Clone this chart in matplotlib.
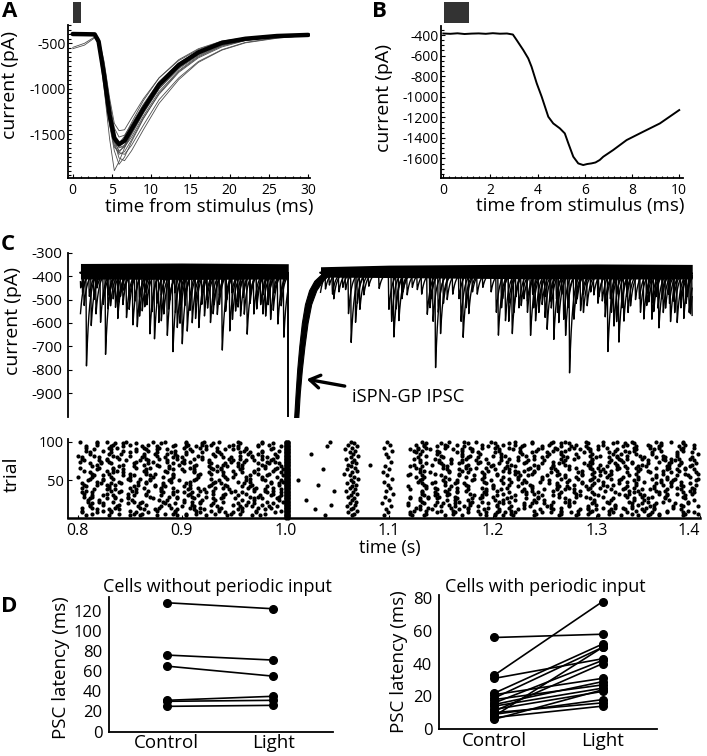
import numpy as np
import matplotlib
matplotlib.use("Agg")
import matplotlib.pyplot as plt
from matplotlib.ticker import MultipleLocator
from matplotlib.transforms import blended_transform_factory, offset_copy
from matplotlib.patches import Rectangle

plt.rcParams['font.family'] = ['Open Sans', 'DejaVu Sans']
plt.rcParams['axes.unicode_minus'] = False
plt.rcParams['axes.linewidth'] = 1.3

W, H = 707, 756

# ---------------- Panel A: evoked IPSCs (ms, pA) ----------------
a_time_ms = [0, 1.5, 2.8, 3.3, 4.0, 4.7, 5.3, 5.9, 6.6, 7.5, 9, 11, 13.5, 16, 19, 22, 26, 30]
a_mean_pA = [-398, -400, -402, -480, -850, -1290, -1540, -1610, -1570, -1440, -1220, -955, -740, -600, -495, -450, -420, -408]
a_trial_01 = [-400, -398, -405, -520, -1000, -1550, -1900, -1800, -1650, -1480, -1260, -1000, -780, -630, -520, -465, -425, -410]
a_trial_02 = [-395, -400, -400, -440, -700, -1100, -1380, -1460, -1450, -1320, -1110, -880, -690, -570, -480, -440, -415, -405]
a_trial_03 = [-405, -402, -400, -500, -900, -1350, -1620, -1720, -1690, -1560, -1320, -1060, -820, -660, -540, -470, -430, -412]
a_trial_04 = [-390, -395, -398, -470, -820, -1230, -1500, -1640, -1640, -1530, -1300, -1030, -800, -640, -525, -465, -425, -410]
a_trial_05 = [-400, -400, -402, -490, -880, -1320, -1560, -1600, -1520, -1370, -1130, -880, -680, -560, -475, -440, -418, -405]
a_trial_06 = [-398, -397, -400, -470, -830, -1270, -1550, -1700, -1720, -1620, -1400, -1120, -880, -700, -570, -490, -440, -415]
a_trial_07 = [-560, -520, -440, -470, -860, -1300, -1580, -1680, -1640, -1500, -1270, -1000, -770, -620, -510, -458, -423, -408]
a_trial_08 = [-545, -500, -430, -460, -800, -1240, -1520, -1650, -1620, -1490, -1250, -980, -760, -610, -505, -455, -422, -407]
a_trial_09 = [-402, -400, -398, -480, -860, -1300, -1580, -1760, -1790, -1680, -1450, -1160, -900, -710, -575, -495, -445, -412]
a_trial_10 = [-400, -403, -400, -520, -950, -1400, -1680, -1830, -1750, -1580, -1330, -1050, -810, -650, -530, -468, -428, -410]
a_trial_11 = [-397, -400, -401, -460, -760, -1150, -1430, -1530, -1510, -1390, -1170, -920, -715, -585, -488, -447, -418, -406]
a_trial_12 = [-403, -400, -402, -500, -920, -1380, -1640, -1700, -1620, -1470, -1230, -970, -750, -605, -500, -452, -421, -407]
stim_ms = [0.05, 1.1]

# ---------------- Panel B: single IPSC (ms, pA) ----------------
b_time_ms = [0, 0.3, 0.6, 0.9, 1.2, 1.5, 1.8, 2.1, 2.4, 2.7, 2.95, 3.11, 3.39, 3.6, 3.74, 3.96, 4.17,
             4.45, 4.66, 4.94, 5.15, 5.3, 5.51, 5.72, 5.93, 6.1, 6.28, 6.45, 6.63, 6.78, 7.2, 7.77,
             8.47, 9.18, 10.0]
b_current_pA = [-385, -388, -383, -390, -386, -384, -388, -382, -387, -385, -395, -449, -546, -627,
                -708, -870, -1000, -1195, -1260, -1308, -1357, -1454, -1584, -1649, -1665, -1655,
                -1649, -1640, -1616, -1584, -1519, -1422, -1341, -1260, -1130]

# ---------------- Panel C: traces (s, pA) ----------------
c_event_s = [0.8020, 0.8022, 0.8078, 0.8124, 0.8213, 0.8262, 0.8310, 0.8358, 0.8406, 0.8464,
             0.8525, 0.8567, 0.8616, 0.8689, 0.8734, 0.8776, 0.8824, 0.8857, 0.8911, 0.8953,
             0.9001, 0.9050, 0.9098, 0.9161, 0.9216, 0.9274, 0.9339, 0.9387, 0.9460, 0.9515,
             0.9564, 0.9628, 0.9692, 0.9757, 0.9805, 0.9853, 0.9923, 0.9981,
             0.804, 0.815, 0.818, 0.829, 0.839, 0.844, 0.849, 0.859, 0.864, 0.866, 0.880, 0.888,
             0.893, 0.898, 0.903, 0.913, 0.919, 0.924, 0.931, 0.936, 0.943, 0.948, 0.954, 0.959,
             0.966, 0.972, 0.978, 0.983, 0.989, 0.995,
             0.8055, 0.8105, 0.8170, 0.8240, 0.8285, 0.8335, 0.8380, 0.8430, 0.8490, 0.8545,
             0.8590, 0.8640, 0.8710, 0.8755, 0.8800, 0.8870, 0.8935, 0.8980, 0.9025, 0.9075,
             0.9130, 0.9190, 0.9245, 0.9300, 0.9360, 0.9420, 0.9485, 0.9540, 0.9600, 0.9655,
             0.9720, 0.9780, 0.9830, 0.9880, 0.9955,
             1.0335, 1.0383, 1.0463, 1.0512, 1.0576, 1.0631, 1.0673, 1.0714, 1.0753, 1.0994,
             1.1042, 1.1090, 1.1171, 1.1268, 1.1364, 1.1444, 1.1492, 1.1557, 1.1711, 1.1765,
             1.1846, 1.2050, 1.2119, 1.2184, 1.2248, 1.2296, 1.2360, 1.2409, 1.2473, 1.2521,
             1.2585, 1.2633, 1.2698, 1.2737, 1.2778, 1.2843, 1.2907, 1.2971, 1.3052, 1.3106,
             1.3164, 1.3212, 1.3260, 1.3325, 1.3373, 1.3453, 1.3501, 1.3549, 1.3598, 1.3662,
             1.3710, 1.3775, 1.3839, 1.3903, 1.3920,
             1.042, 1.055, 1.080, 1.090, 1.113, 1.122, 1.131, 1.140, 1.152, 1.161, 1.167, 1.180,
             1.190, 1.198, 1.209, 1.215, 1.222, 1.233, 1.238, 1.244, 1.250, 1.255, 1.261, 1.266,
             1.281, 1.287, 1.294, 1.302, 1.308, 1.313, 1.319, 1.329, 1.341, 1.348, 1.353, 1.357,
             1.363, 1.369, 1.374, 1.381, 1.387,
             1.0450, 1.0605, 1.0690, 1.1020, 1.1065, 1.1120, 1.1390, 1.1420, 1.1470, 1.1690,
             1.1740, 1.2030, 1.2080, 1.2150, 1.2200, 1.2270, 1.2330, 1.2390, 1.2440, 1.2500,
             1.2560, 1.2620, 1.2680, 1.2720, 1.2800, 1.2870, 1.3010, 1.3080, 1.3140, 1.3190,
             1.3240, 1.3300, 1.3420, 1.3480, 1.3530, 1.3590, 1.3640, 1.3700, 1.3750, 1.3810,
             1.3860, 1.3890]
c_event_peak_pA = [-560, -450, -783, -611, -604, -733, -526, -533, -483, -576,
                   -614, -623, -547, -654, -666, -597, -561, -661, -733, -626,
                   -697, -633, -597, -626, -569, -597, -569, -726, -633, -554,
                   -569, -647, -561, -526, -576, -590, -611, -669,
                   -470, -500, -450, -480, -510, -460, -500, -490, -470, -520, -480, -500,
                   -470, -520, -480, -510, -470, -500, -520, -480, -500, -470, -510, -490,
                   -470, -500, -480, -510, -470, -500,
                   -530, -490, -560, -520, -545, -500, -580, -520, -540, -510,
                   -570, -530, -550, -520, -590, -540, -560, -600, -530, -550,
                   -580, -520, -540, -560, -520, -550, -590, -530, -560, -520,
                   -540, -560, -520, -545, -530,
                   -469, -455, -497, -470, -460, -683, -597, -547, -480, -547,
                   -669, -597, -480, -460, -569, -804, -654, -500, -661, -560,
                   -480, -661, -590, -654, -540, -500, -661, -590, -520, -626,
                   -669, -597, -661, -811, -590, -547, -526, -480, -510, -733,
                   -620, -690, -597, -526, -500, -583, -510, -550, -626, -540,
                   -600, -597, -580, -560, -611,
                   -440, -450, -445, -455, -470, -450, -480, -500, -520, -480, -500, -470,
                   -450, -470, -500, -520, -490, -510, -480, -520, -490, -510, -500, -480,
                   -500, -480, -470, -490, -520, -500, -480, -490, -500, -480, -520, -490,
                   -500, -480, -510, -500, -490,
                   -480, -560, -520, -600, -540, -500, -540, -600, -560, -600,
                   -540, -560, -540, -600, -560, -530, -560, -540, -560, -580,
                   -540, -560, -590, -540, -520, -560, -520, -580, -560, -600,
                   -540, -560, -560, -530, -590, -540, -560, -520, -560, -540,
                   -520, -560]
c_baseline_pA = -385
band_pre_s = [0.8025, 0.90, 1.0029]
band_pre_top_pA = [-346, -344, -347]
band_pre_bottom_pA = [-412, -414, -412]
band_post_s = [1.034, 1.10, 1.20, 1.30, 1.3925]
band_post_top_pA = [-360, -353, -350, -348, -350]
band_post_bottom_pA = [-404, -406, -410, -412, -412]
ipsc_onset_s = 1.0029
ipsc_level_pA = [-1010, -900, -800, -700, -600, -520, -460, -420, -395]
ipsc_early_s = [1.0085, 1.0100, 1.0115, 1.0135, 1.0160, 1.0190, 1.0230, 1.0280, 1.0340]
ipsc_late_s = [1.0125, 1.0140, 1.0160, 1.0185, 1.0215, 1.0250, 1.0300, 1.0360, 1.0420]

# ---------------- Panel C: raster (event times, ms after 0.8 s) ----------------
raster_trials = [100, 98, 96, 94, 92, 90, 88, 86, 84, 82, 80, 78, 76, 74, 72, 70, 68, 66, 64, 62,
                 60, 58, 56, 54, 52, 50, 48, 46, 44, 42, 40, 38, 36, 34, 32, 30, 28, 26, 24, 22,
                 20, 18, 16, 14, 12, 10, 8, 6, 4]
raster_ms = [
    [2, 18, 28, 46, 72, 84, 104, 122, 136, 154, 178, 243, 263, 298, 332, 358, 372, 384, 398, 422, 438, 458, 470, 490, 506, 520, 534, 558, 572, 584],
    [18, 36, 44, 56, 80, 104, 120, 130, 156, 178, 188, 266, 336, 350, 376, 402, 416, 438, 456, 466, 474, 492, 516, 528, 536, 562, 584],
    [18, 34, 50, 68, 94, 106, 120, 128, 150, 174, 184, 261, 301, 326, 334, 354, 366, 390, 410, 422, 430, 454, 480, 506, 530, 550, 562, 586, 594],
    [8, 32, 44, 62, 76, 92, 104, 114, 124, 146, 154, 174, 196, 240, 269, 334, 346, 356, 372, 396, 404, 428, 448, 466, 476, 490, 502, 526, 538, 552, 560, 580],
    [8, 30, 38, 64, 78, 102, 118, 134, 154, 162, 188, 264, 295, 328, 336, 354, 378, 390, 402, 416, 426, 448, 460, 478, 492, 510, 536, 552, 560, 584, 594],
    [16, 32, 56, 66, 76, 86, 108, 124, 142, 150, 162, 186, 258, 320, 328, 340, 362, 370, 380, 406, 420, 444, 462, 474, 484, 494, 502, 520, 538, 556, 582],
    [8, 24, 44, 56, 68, 94, 110, 134, 160, 178, 194, 267, 303, 324, 332, 346, 370, 380, 406, 426, 442, 458, 470, 494, 518, 528, 536, 562, 584],
    [12, 32, 50, 76, 90, 104, 120, 136, 156, 166, 178, 262, 326, 348, 366, 386, 402, 426, 438, 452, 466, 488, 512, 532, 554, 578, 592],
    [12, 30, 42, 64, 74, 86, 94, 104, 130, 138, 164, 174, 190, 225, 265, 297, 330, 346, 370, 388, 408, 428, 454, 466, 480, 496, 516, 524, 538, 554, 578, 598],
    [0, 16, 34, 50, 64, 76, 96, 116, 132, 156, 168, 178, 192, 270, 336, 350, 370, 378, 400, 412, 432, 440, 452, 468, 494, 504, 520, 530, 542, 564, 578],
    [4, 20, 38, 62, 84, 92, 100, 120, 140, 148, 168, 182, 192, 263, 299, 328, 352, 376, 386, 408, 424, 448, 472, 482, 500, 512, 520, 546, 558, 566, 592],
    [4, 28, 40, 66, 78, 96, 112, 120, 146, 156, 178, 188, 259, 324, 344, 360, 374, 394, 416, 440, 466, 478, 496, 522, 530, 544, 564, 572, 580, 590],
    [6, 20, 28, 46, 60, 68, 86, 102, 126, 150, 162, 170, 186, 266, 330, 348, 360, 370, 384, 408, 424, 434, 450, 470, 496, 514, 524, 550, 566, 576, 594],
    [2, 22, 30, 56, 72, 86, 100, 108, 126, 148, 160, 182, 190, 264, 302, 330, 348, 370, 388, 414, 432, 458, 468, 494, 512, 526, 534, 560, 572, 582],
    [12, 22, 32, 54, 68, 92, 102, 128, 142, 154, 174, 184, 194, 268, 336, 350, 360, 368, 386, 396, 406, 430, 448, 464, 488, 496, 518, 534, 550, 570, 582, 596],
    [18, 44, 64, 76, 98, 114, 140, 158, 178, 261, 282, 324, 342, 352, 376, 400, 418, 440, 458, 470, 492, 504, 520, 544, 570, 580, 592],
    [14, 40, 54, 78, 88, 112, 126, 134, 144, 154, 180, 196, 263, 296, 320, 332, 356, 374, 398, 414, 422, 444, 458, 474, 494, 510, 520, 528, 540, 548, 568, 590],
    [2, 20, 34, 56, 70, 88, 108, 128, 138, 158, 180, 192, 267, 326, 352, 374, 384, 394, 412, 436, 444, 456, 480, 494, 502, 522, 530, 538, 558, 570, 586],
    [18, 34, 44, 66, 92, 100, 112, 130, 138, 156, 174, 190, 198, 236, 260, 300, 330, 356, 368, 378, 402, 416, 434, 460, 474, 496, 506, 520, 542, 568, 578, 586, 594],
    [6, 28, 38, 64, 84, 102, 112, 134, 150, 170, 188, 269, 334, 358, 370, 396, 410, 422, 430, 440, 462, 486, 504, 514, 540, 550, 564, 580],
    [12, 34, 44, 66, 86, 112, 126, 140, 158, 170, 196, 264, 294, 330, 340, 358, 376, 390, 416, 424, 440, 456, 482, 498, 508, 530, 552, 572, 596],
    [14, 30, 50, 66, 74, 92, 118, 128, 152, 174, 184, 257, 320, 344, 368, 392, 404, 422, 438, 464, 486, 496, 514, 538, 564, 586, 598],
    [16, 24, 44, 54, 70, 92, 116, 140, 166, 182, 198, 262, 298, 318, 332, 350, 368, 382, 404, 426, 434, 452, 462, 470, 486, 504, 512, 532, 558, 578, 588],
    [0, 14, 32, 50, 72, 82, 92, 116, 142, 150, 162, 178, 192, 266, 326, 334, 354, 374, 392, 410, 424, 448, 470, 480, 498, 510, 526, 540, 558, 568, 590],
    [12, 24, 34, 48, 60, 70, 90, 114, 128, 144, 166, 178, 270, 303, 332, 358, 382, 390, 416, 424, 448, 466, 482, 496, 514, 524, 540, 554, 568, 576, 598],
    [10, 24, 50, 70, 88, 98, 112, 136, 162, 180, 196, 212, 263, 330, 352, 366, 380, 398, 408, 430, 454, 474, 494, 502, 522, 536, 562, 574, 596],
    [18, 40, 58, 66, 90, 108, 132, 154, 166, 186, 198, 265, 295, 328, 344, 354, 366, 392, 418, 432, 446, 472, 486, 506, 530, 546, 562, 572, 582],
    [4, 22, 32, 42, 66, 82, 104, 130, 138, 160, 186, 194, 260, 332, 342, 364, 372, 394, 410, 428, 454, 462, 486, 498, 522, 538, 558, 572, 590],
    [6, 18, 28, 36, 58, 74, 82, 108, 128, 142, 168, 194, 232, 268, 299, 334, 354, 374, 400, 416, 436, 462, 478, 496, 506, 516, 538, 564, 582, 596],
    [8, 30, 54, 74, 84, 102, 126, 144, 158, 166, 182, 264, 318, 336, 360, 376, 400, 424, 438, 464, 472, 490, 510, 530, 556, 572, 584],
    [4, 30, 50, 64, 80, 92, 108, 116, 132, 140, 164, 172, 188, 262, 301, 336, 344, 366, 390, 400, 414, 438, 462, 474, 494, 504, 528, 536, 556, 578, 592],
    [16, 28, 36, 56, 80, 106, 122, 146, 170, 180, 196, 267, 320, 346, 358, 376, 394, 408, 430, 450, 462, 470, 478, 492, 514, 526, 544, 552, 568, 582, 594],
    [8, 32, 42, 52, 68, 80, 96, 118, 130, 152, 170, 180, 188, 247, 259, 297, 332, 354, 366, 374, 394, 404, 428, 438, 458, 484, 508, 532, 540, 558, 566, 590],
    [4, 14, 40, 56, 82, 92, 102, 110, 124, 148, 158, 182, 196, 265, 332, 344, 356, 366, 392, 416, 432, 444, 466, 478, 496, 518, 536, 560, 584, 594],
    [6, 28, 48, 66, 92, 108, 130, 142, 162, 188, 269, 304, 332, 346, 358, 378, 394, 410, 432, 440, 464, 480, 498, 522, 532, 542, 560, 568, 578, 592],
    [14, 24, 34, 54, 66, 80, 106, 116, 140, 154, 176, 186, 196, 263, 334, 344, 356, 382, 390, 404, 422, 448, 458, 484, 502, 528, 546, 568, 586],
    [6, 14, 36, 48, 70, 88, 96, 110, 124, 140, 166, 174, 194, 261, 296, 320, 338, 348, 364, 390, 400, 418, 444, 464, 480, 490, 506, 530, 544, 554, 566, 584],
    [12, 28, 36, 48, 72, 96, 112, 130, 138, 152, 170, 178, 192, 266, 320, 330, 338, 346, 366, 380, 388, 414, 432, 444, 470, 494, 516, 536, 550, 566, 586],
    [10, 20, 42, 52, 78, 86, 102, 120, 132, 158, 170, 194, 220, 264, 300, 330, 356, 364, 376, 402, 410, 422, 440, 450, 474, 498, 514, 536, 546, 570, 594],
    [10, 20, 34, 54, 62, 82, 102, 110, 118, 140, 164, 182, 198, 268, 332, 346, 368, 380, 390, 406, 416, 442, 458, 470, 478, 498, 510, 532, 550, 564, 588],
    [14, 24, 48, 60, 84, 94, 118, 130, 154, 170, 188, 262, 293, 318, 334, 352, 364, 378, 396, 410, 430, 438, 450, 474, 496, 512, 534, 544, 558, 576, 588],
    [12, 24, 40, 66, 88, 110, 128, 150, 162, 178, 244, 267, 318, 344, 358, 378, 404, 430, 456, 474, 500, 518, 540, 556, 582],
    [12, 38, 58, 80, 100, 112, 134, 156, 168, 184, 192, 260, 302, 330, 350, 364, 372, 386, 404, 418, 436, 452, 474, 492, 518, 534, 552, 574, 584, 598],
    [4, 14, 36, 60, 78, 90, 108, 118, 138, 158, 174, 186, 265, 326, 338, 360, 376, 396, 416, 430, 456, 466, 492, 506, 518, 526, 534, 548, 556, 574],
    [18, 30, 40, 64, 74, 96, 112, 122, 136, 154, 180, 229, 263, 297, 330, 342, 368, 376, 392, 406, 424, 446, 458, 484, 492, 500, 514, 528, 544, 556, 582],
    [4, 24, 32, 50, 76, 94, 114, 128, 136, 158, 172, 196, 269, 324, 336, 350, 362, 386, 406, 418, 440, 466, 482, 496, 512, 538, 546, 568, 588],
    [4, 18, 32, 56, 68, 94, 118, 142, 150, 172, 190, 261, 299, 320, 346, 364, 376, 394, 404, 412, 422, 448, 456, 466, 476, 494, 516, 530, 554, 568, 584, 594],
    [14, 40, 54, 62, 84, 92, 104, 114, 132, 148, 156, 180, 266, 320, 336, 362, 388, 402, 418, 442, 466, 482, 492, 512, 534, 552, 560, 586, 598],
    [8, 30, 50, 60, 76, 96, 104, 124, 144, 168, 176, 238, 264, 295, 322, 334, 354, 370, 394, 402, 410, 420, 440, 464, 480, 502, 524, 540, 550, 560, 584],
]
ipsc_detect_ms = [200.5, 203.0]
raster_ticks = [0.8, 0.9, 1.0, 1.1, 1.2, 1.3, 1.4]

# ---------------- Panel D: PSC latency (ms) ----------------
d_conditions = ['Control', 'Light']
d_without_control = [128, 76, 65, 31, 30, 25]
d_without_light = [122, 71, 55, 35, 31, 26]
d_with_control = [56, 33, 31, 22, 21, 19, 18, 16, 15, 14, 12, 11, 10, 9, 8, 7, 6]
d_with_light = [58, 78, 43, 52, 31, 50, 27, 42, 29, 25, 23, 40, 16, 18, 50, 14, 24]

# =====================================================================
fig = plt.figure(figsize=(W / 100, H / 100), dpi=100)


def add_ax(l, t, r, b):
    ax = fig.add_axes([l / W, 1 - b / H, (r - l) / W, (b - t) / H])
    ax.spines['top'].set_visible(False)
    ax.spines['right'].set_visible(False)
    return ax


def stim_bar(ax, y0, y1):
    tr = blended_transform_factory(ax.transData, ax.transAxes)
    ax.add_patch(Rectangle((stim_ms[0], y0), stim_ms[1] - stim_ms[0], y1 - y0, transform=tr,
                           color='#333333', clip_on=False, lw=0))


# ---- A ----
axA = add_ax(68.3, 25, 310, 178)
for tr in [a_trial_01, a_trial_02, a_trial_03, a_trial_04, a_trial_05, a_trial_06,
           a_trial_07, a_trial_08, a_trial_09, a_trial_10, a_trial_11, a_trial_12]:
    axA.plot(a_time_ms, tr, color='#4d4d4d', lw=0.6)
axA.plot(a_time_ms, a_mean_pA, color='k', lw=3.2, solid_joinstyle='round', solid_capstyle='round')
axA.set_xlim(-0.56, 30.22)
axA.set_ylim(-1980, -299)
axA.set_xticks([0, 5, 10, 15, 20, 25, 30])
axA.set_yticks([-500, -1000, -1500])
axA.xaxis.set_minor_locator(MultipleLocator(1))
axA.yaxis.set_minor_locator(MultipleLocator(50))
axA.tick_params(which='both', direction='in', labelsize=10, width=0.8)
axA.tick_params(which='major', length=3)
axA.tick_params(which='minor', length=1.8)
axA.tick_params(axis='y', pad=1.5)
axA.tick_params(axis='x', pad=3.5)
axA.set_xlabel('time from stimulus (ms)', fontsize=13.5)
axA.set_ylabel('current (pA)', fontsize=14)
axA.xaxis.set_label_coords(0.583, -0.128)
axA.yaxis.set_label_coords(-0.206, 0.61)
stim_bar(axA, 1.013, 1.15)

# ---- B ----
axB = add_ax(440.7, 26, 683, 178.3)
axB.plot(b_time_ms, b_current_pA, color='k', lw=1.4)
axB.set_xlim(-0.11, 10.16)
axB.set_ylim(-1794, -312)
axB.set_xticks([0, 2, 4, 6, 8, 10])
axB.set_yticks([-400, -600, -800, -1000, -1200, -1400, -1600])
axB.xaxis.set_minor_locator(MultipleLocator(0.25))
axB.yaxis.set_minor_locator(MultipleLocator(50))
axB.tick_params(which='both', direction='in', labelsize=10, width=0.8)
axB.tick_params(which='major', length=3)
axB.tick_params(which='minor', length=1.8)
axB.tick_params(axis='y', pad=1.5)
axB.tick_params(axis='x', pad=3.5)
axB.set_xlabel('time from stimulus (ms)', fontsize=13.5)
axB.set_ylabel('current (pA)', fontsize=14)
axB.xaxis.set_label_coords(0.575, -0.126)
axB.yaxis.set_label_coords(-0.195, 0.525)
stim_bar(axB, 1.02, 1.158)

# ---- C traces ----
axC = add_ax(67.5, 252.7, 700, 416.7)
axC.spines['bottom'].set_visible(False)
axC.fill_between(band_pre_s, band_pre_top_pA, band_pre_bottom_pA, color='k', lw=0)
axC.fill_between(band_post_s, band_post_top_pA, band_post_bottom_pA, color='k', lw=0)
t_pre = np.arange(0.8025, ipsc_onset_s, 0.0002)
t_post = np.arange(1.034, 1.3925, 0.0002)
ev_t = np.array(c_event_s)
ev_p = np.array(c_event_peak_pA)
order = np.argsort(ev_t)
n_tr = 8
for k in range(n_tr):
    idx = order[k::n_tr]
    for grid in (t_pre, t_post):
        y = np.full(grid.shape, float(c_baseline_pA))
        for i in idx:
            d = grid - ev_t[i]
            kern = np.where(d < 0, 0.0, np.where(d < 0.0005, d / 0.0005,
                                                  np.exp(-(d - 0.0005) / 0.003)))
            y += (ev_p[i] - c_baseline_pA) * kern
        axC.plot(grid, y, color='k', lw=1.0)
axC.plot([ipsc_onset_s, ipsc_onset_s], [-390, -1010], color='k', lw=1.4)
axC.fill_betweenx(ipsc_level_pA, ipsc_early_s, ipsc_late_s, color='k', lw=0.8)
axC.set_xlim(0.790, 1.400)
axC.set_ylim(-1000, -300)
axC.set_xticks([])
axC.set_yticks([-300, -400, -500, -600, -700, -800, -900])
axC.tick_params(axis='y', direction='in', length=3, width=0.8, labelsize=11, pad=4)
axC.set_ylabel('current (pA)', fontsize=14)
axC.yaxis.set_label_coords(-0.072, 0.583)
axC.annotate('iSPN-GP IPSC', xy=(1.0207, -840), xytext=(1.064, -918),
             fontsize=13.2, va='center', ha='left',
             arrowprops=dict(arrowstyle='->,head_length=0.55,head_width=0.35', lw=2.4,
                             color='k', shrinkA=3, shrinkB=0))

# ---- C raster ----
axR = add_ax(67.5, 439.4, 700, 517.6)
xs, ys = [], []
for trial, row in zip(raster_trials, raster_ms):
    for m in row:
        xs.append(0.8 + m / 1000.0)
        ys.append(trial)
all_trials = np.arange(1, 101)
for m in ipsc_detect_ms:
    xs.extend([0.8 + m / 1000.0] * len(all_trials))
    ys.extend(all_trials.tolist())
axR.plot(xs, ys, 'o', ms=3.0, mec='none', mfc='k', clip_on=False)
axR.set_xlim(0.790, 1.400)
axR.set_ylim(1, 103)
axR.spines['bottom'].set_linewidth(1.8)
axR.set_xticks(raster_ticks)
labels = axR.set_xticklabels(['%.1f' % v for v in raster_ticks], fontsize=11.5)
labels[-1].set_horizontalalignment('right')
labels[-1].set_transform(offset_copy(labels[-1].get_transform(), fig=fig, x=8, units='dots'))
axR.set_yticks([50, 100])
axR.set_yticklabels(['50', '100'], fontsize=10.5)
axR.tick_params(axis='x', direction='in', length=2, pad=4)
axR.tick_params(axis='y', direction='in', length=3, pad=2.5)
axR.set_xlabel('time (s)', fontsize=13)
axR.xaxis.set_label_coords(0.51, -0.27)
axR.set_ylabel('trial', fontsize=14)
axR.yaxis.set_label_coords(-0.074, 0.557)

# ---- D ----
axD1 = add_ax(109.3, 596.7, 333, 731.5)
for c, l in zip(d_without_control, d_without_light):
    axD1.plot([1, 2], [c, l], '-o', color='k', lw=1.2, ms=5.5)
axD1.set_xlim(0.462, 2.56)
axD1.set_ylim(0, 134)
axD1.set_yticks([0, 20, 40, 60, 80, 100, 120])
axD1.set_xticks([1, 2])
axD1.set_xticklabels(d_conditions)
axD1.tick_params(axis='both', length=0)
axD1.tick_params(axis='y', labelsize=12, pad=5)
axD1.tick_params(axis='x', labelsize=13.5, pad=2)
axD1.set_ylabel('PSC latency (ms)', fontsize=13.5)
axD1.yaxis.set_label_coords(-0.176, 0.474)

axD2 = add_ax(439.3, 595, 656.7, 729)
for c, l in zip(d_with_control, d_with_light):
    axD2.plot([1, 2], [c, l], '-o', color='k', lw=1.2, ms=5.5)
axD2.set_xlim(0.49, 2.5)
axD2.set_ylim(0, 82)
axD2.set_yticks([0, 20, 40, 60, 80])
axD2.set_xticks([1, 2])
axD2.set_xticklabels(d_conditions)
axD2.tick_params(axis='both', length=0)
axD2.tick_params(axis='y', labelsize=12, pad=5)
axD2.tick_params(axis='x', labelsize=13.5, pad=2)
axD2.set_ylabel('PSC latency (ms)', fontsize=13.5)
axD2.yaxis.set_label_coords(-0.144, 0.5)

fig.text(217 / W, 1 - 587 / H, 'Cells without periodic input', fontsize=13, ha='center', va='center')
fig.text(545 / W, 1 - 587 / H, 'Cells with periodic input', fontsize=13, ha='center', va='center')

# panel letters
for letter, x, y in [('A', 2, 1), ('B', 372, 1), ('C', 1, 234), ('D', 1, 596)]:
    fig.text(x / W, 1 - y / H, letter, fontsize=16, fontweight='bold', ha='left', va='top')

fig.savefig('out.png', dpi=100)
